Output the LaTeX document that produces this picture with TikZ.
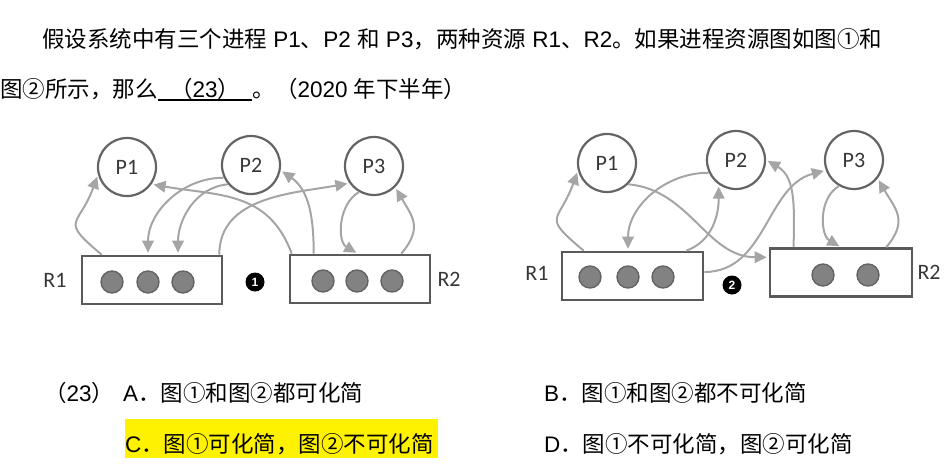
\documentclass[tikz,border=0pt]{standalone}
\usepackage{fontspec}
\usepackage{tikz}
\usetikzlibrary{positioning, arrows.meta}
\setmainfont{Noto Sans CJK SC}
\newfontfamily\enfont{Liberation Sans}
\newfontfamily\figfont{Carlito}
\newcommand{\en}[1]{{\enfont #1}}
\definecolor{linkgray}{RGB}{165,165,165}
\definecolor{rimgray}{RGB}{100,100,100}
\definecolor{boxgray}{RGB}{90,90,90}
\definecolor{dotgray}{RGB}{130,130,130}
\definecolor{labgray}{RGB}{55,55,55}

\begin{document}
\begin{tikzpicture}[x=1pt,y=1pt,
    >={Triangle[length=12pt,width=11.5pt]},
    txt/.style={anchor=base west,inner sep=0pt,font=\fontsize{22.5}{27}\selectfont},
    proc/.style={circle,draw=rimgray,line width=2.2pt,minimum size=58pt,inner sep=0pt,
      text=labgray,font=\figfont\fontsize{22}{26}\selectfont},
    res/.style={rectangle,draw=boxgray,line width=2.6pt,minimum width=140pt,minimum height=48pt,inner sep=0pt},
    unit/.style={circle,draw=rimgray,fill=dotgray,line width=1.4pt,minimum size=22pt,inner sep=0pt},
    reslabel/.style={text=labgray,font=\figfont\fontsize{22}{26}\selectfont,inner sep=2pt},
    badge/.style={circle,fill=black,minimum size=19pt,inner sep=0pt,text=white,
      font=\enfont\bfseries\fontsize{12}{12}\selectfont},
    link/.style={->,draw=linkgray,line width=2pt,shorten >=2pt}]
  \useasboundingbox (0,0) rectangle (946,-472);

  % question text
  \node[txt] (line1) at (42,-47) {假设系统中有三个进程\en{\ P1}、\en{P2\ }和\en{\ P3}，两种资源\en{\ R1}、\en{R2}。如果进程资源图如图①和};
  \node[txt] (line2) at (0,-97) {图②所示，那么};
  \node[txt,minimum width=94pt] (blank) at (line2.base east) {（\en{23}）};
  \draw[line width=1.6pt] ([yshift=-3pt]blank.base west) -- ([yshift=-3pt]blank.base east);
  \node[txt] (line2b) at (blank.base east) {。（\en{2020\ }年下半年）};

  % graph 1
  \node[proc] (p1a) at (127,-167) {P1};
  \node[proc] (p2a) at (251,-165) {P2};
  \node[proc] (p3a) at (374,-166) {P3};
  \node[res] (r1a) at (152,-280) {};
  \node[res] (r2a) at (360,-279) {};
  \foreach \x [count=\i] in {112,148,183} \node[unit] (r1a\i) at (\x,-282) {};
  \foreach \x [count=\i] in {323,357,392} \node[unit] (r2a\i) at (\x,-281) {};
  \node[reslabel,left=12pt of r1a] (t1a) {R1};
  \node[reslabel,right=4pt of r2a] (t2a) {R2};
  \node[badge] (g1) at (255,-282) {1};

  \path ([xshift=21pt]r1a.north west) edge[link,out=140,in=250,looseness=1.8] (p1a.195)
        (p2a.205) edge[link,out=180,in=90] ([xshift=-4pt]r1a.north)
        (p2a.220) edge[link,out=185,in=90] ([xshift=26pt]r1a.north)
        ([xshift=-4pt]r1a.north east) edge[link,out=90,in=190] (p3a.215)
        ([xshift=3pt]r2a.north west) edge[link,out=110,in=350,looseness=1.1] (p1a.325)
        ([xshift=25pt]r2a.north west) edge[link,out=90,in=325] (p2a.350)
        (p3a.240) edge[link,out=210,in=150] ([xshift=-2pt]r2a.north)
        ([xshift=-30pt]r2a.north east) edge[link,out=50,in=300,looseness=1.3] (p3a.315);

  % graph 2
  \node[proc] (p1b) at (607,-163) {P1};
  \node[proc] (p2b) at (736,-160) {P2};
  \node[proc] (p3b) at (854,-160) {P3};
  \node[res,minimum width=141pt] (r1b) at (632.5,-276) {};
  \node[res,minimum width=142pt] (r2b) at (841,-272.5) {};
  \foreach \x [count=\i] in {590,628,663} \node[unit] (r1b\i) at (\x,-277) {};
  \foreach \x [count=\i] in {823,868} \node[unit] (r2b\i) at (\x,-275) {};
  \node[reslabel,left=10pt of r1b,yshift=3pt] (t1b) {R1};
  \node[reslabel,right=2pt of r2b] (t2b) {R2};
  \node[badge] (g2) at (732,-285) {2};

  \path ([xshift=23pt]r1b.north west) edge[link,out=140,in=250,looseness=1.8] (p1b.195)
        (p2b.205) edge[link,out=180,in=90] ([xshift=-4.5pt]r1b.north)
        ([xshift=-18pt]r1b.north east) edge[link,out=20,in=270] (p2b.235)
        (p1b.315) edge[link,out=-5,in=180] ([yshift=-10pt]r2b.north west)
        ([yshift=4pt]r1b.east) edge[link,out=0,in=195] (p3b.200)
        ([xshift=25pt]r2b.north west) edge[link,out=90,in=330] (p2b.0)
        (p3b.240) edge[link,out=210,in=150] (r2b.north)
        ([xshift=-27pt]r2b.north east) edge[link,out=50,in=300,looseness=1.3] (p3b.322);

  % answers
  \node[txt] (qno) at (44,-401) {（\en{23}）};
  \node[txt] (opta) at (123,-401) {\en{A}．图①和图②都可化简};
  \node[txt] (optb) at (544,-401) {\en{B}．图①和图②都不可化简};
  \node[txt,fill=yellow,text width=313pt,align=left,text height=33pt,text depth=6pt] (optc) at (125,-452) {\en{C}．图①可化简，图②不可化简};
  \node[txt] (optd) at (544,-452) {\en{D}．图①不可化简，图②可化简};
\end{tikzpicture}
\end{document}
